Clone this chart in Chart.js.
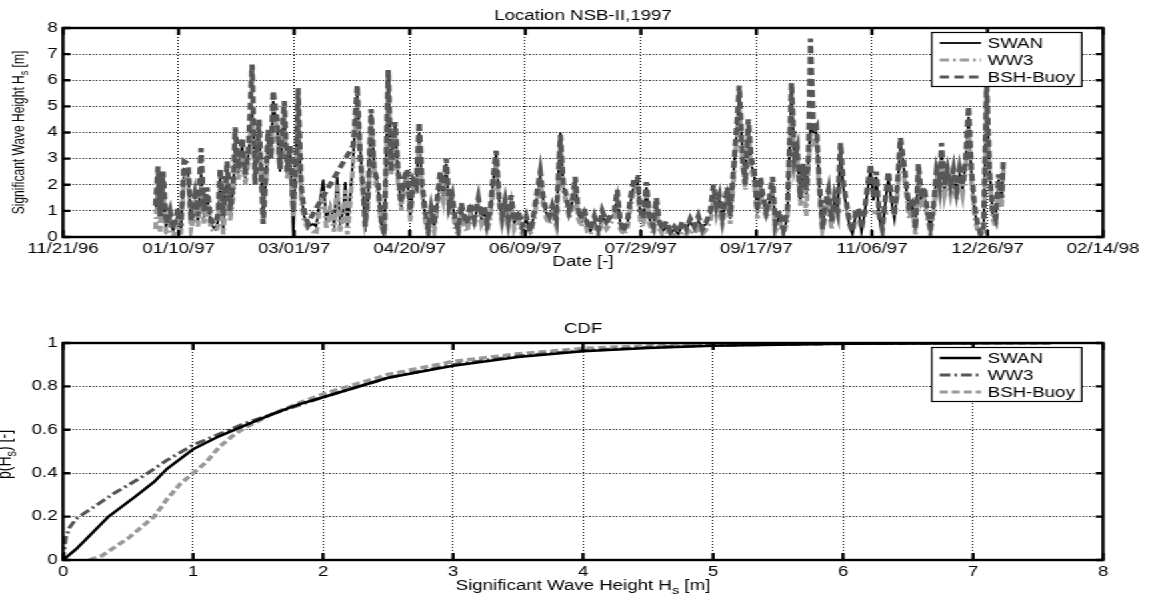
<!DOCTYPE html>
<html>
<head>
<meta charset="utf-8">
<script src="https://cdn.jsdelivr.net/npm/chart.js@4.4.0/dist/chart.umd.min.js"></script>
<style>
  html, body { margin: 0; padding: 0; background: #fff; overflow: hidden; }
  /* the reference is a horizontally stretched Matlab figure */
  #stage { width: 864px; height: 597px; transform: scale(1.3333333, 1); transform-origin: 0 0; }
  .box { position: relative; width: 864px; }
  #topBox { height: 300px; }
  #cdfBox { height: 297px; }
  canvas { display: block; }
</style>
</head>
<body>
<div id="stage">
  <div class="box" id="topBox"><canvas id="seriesChart"></canvas></div>
  <div class="box" id="cdfBox"><canvas id="cdfChart"></canvas></div>
</div>
<script>
// x axis of the time series: days after 11/21/96
const dateTicks = ["11/21/96", "01/10/97", "03/01/97", "04/20/97", "06/09/97",
  "07/29/97", "09/17/97", "11/06/97", "12/26/97", "02/14/98"];
const hsTicks = ["0", "1", "2", "3", "4", "5", "6", "7", "8"];
const cdfXTicks = ["0", "1", "2", "3", "4", "5", "6", "7", "8"];
const cdfYTicks = ["0", "0.2", "0.4", "0.6", "0.8", "1"];

const days = [
  40.0, 41.1, 42.0, 43.3, 44.6, 46.3, 47.6, 49.8, 51.0, 52.4,
  54.1, 55.4, 57.1, 58.4, 59.7, 61.0, 62.3, 64.0, 65.8, 67.1,
  68.0, 69.3, 71.0, 72.3, 73.6, 74.5, 75.8, 77.5, 78.8, 80.1,
  81.8, 83.1, 84.8, 86.6, 87.9, 88.7, 90.0, 90.9, 92.6, 93.9,
  94.8, 95.7, 97.0, 98.3, 99.6, 100.9, 101.7, 103.0, 104.3, 106.0,
  108.2, 109.5, 110.8, 112.6, 113.9, 115.6, 117.3, 118.6, 119.9, 121.2,
  122.1, 123.0, 124.2, 125.5, 126.4, 127.3, 128.6, 129.9, 130.7, 132.0,
  133.3, 134.6, 136.4, 137.7, 139.0, 140.7, 142.0, 143.7, 145.0, 146.3,
  147.6, 148.9, 150.2, 151.5, 152.8, 154.1, 155.4, 156.7, 158.0, 159.3,
  160.6, 161.9, 163.2, 164.5, 165.8, 167.1, 168.4, 169.7, 171.0, 172.3,
  173.6, 174.9, 176.2, 177.9, 179.7, 181.0, 182.3, 183.5, 184.8, 186.1,
  187.4, 188.7, 190.0, 191.3, 192.6, 193.9, 195.2, 197.0, 198.7, 200.4,
  202.2, 203.9, 205.2, 206.5, 207.8, 209.1, 210.4, 211.7, 213.4, 215.2,
  216.5, 217.7, 219.0, 220.3, 221.6, 222.9, 224.2, 225.5, 226.8, 228.1,
  229.9, 231.6, 233.3, 235.1, 236.8, 238.5, 239.8, 241.1, 242.4, 244.2,
  245.5, 247.2, 248.5, 249.8, 251.1, 252.4, 253.7, 255.4, 256.7, 258.0,
  259.3, 261.0, 262.8, 264.5, 266.2, 268.0, 269.7, 271.4, 273.2, 274.9,
  276.6, 278.4, 280.1, 281.4, 282.7, 284.0, 285.3, 286.6, 287.4, 288.7,
  290.0, 291.3, 292.6, 294.0, 295.2, 296.5, 297.8, 299.1, 300.4, 301.7,
  303.0, 304.3, 305.6, 307.0, 308.2, 310.0, 311.7, 313.4, 315.2, 316.5,
  317.7, 319.0, 320.3, 321.6, 322.5, 323.4, 324.7, 326.0, 327.3, 328.6,
  329.9, 331.2, 332.5, 333.8, 335.1, 336.4, 337.7, 339.0, 340.3, 341.6,
  342.9, 344.2, 345.5, 346.8, 348.0, 349.4, 350.6, 351.9, 353.2, 354.5,
  355.8, 357.1, 358.4, 359.7, 361.0, 362.3, 363.6, 364.9, 366.2, 367.5,
  368.8, 370.1, 371.4, 372.7, 374.0, 375.3, 376.6, 377.9, 379.2, 380.1,
  381.4, 382.7, 384.0, 385.3, 386.6, 387.9, 389.2, 390.5, 391.8, 393.1,
  394.4, 395.7, 397.0, 398.3, 399.6, 400.9, 402.2, 403.5, 404.8, 406.1, 406.9
];

const swanHs = [
  0.9, 2.2, 0.6, 2.0, 0.3, 0.8, 0.2, 0.9, 0.3, 2.6,
  2.5, 0.5, 1.3, 0.6, 2.4, 0.7, 1.6, 0.5, 0.3, 0.6,
  2.3, 0.3, 2.6, 0.8, 1.8, 3.5, 2.4, 3.5, 2.2, 3.0,
  5.0, 2.3, 4.2, 0.8, 2.4, 3.8, 3.2, 5.2, 4.2, 2.5,
  3.8, 4.8, 2.4, 3.3, 0.0, 3.5, 5.5, 1.8, 0.8, 0.4,
  0.5, 0.4, 1.2, 2.2, 0.6, 1.2, 0.5, 2.3, 0.5, 1.0,
  2.1, 0.4, 1.5, 3.0, 4.4, 5.4, 3.4, 1.6, 0.2, 1.4,
  4.7, 2.8, 1.8, 0.5, 0.0, 6.3, 2.8, 4.3, 2.3, 1.1,
  2.1, 2.4, 0.8, 2.0, 1.8, 4.0, 1.8, 0.8, 0.2, 0.9,
  0.4, 1.3, 2.2, 1.6, 2.8, 1.0, 1.4, 0.5, 0.2, 1.1,
  0.6, 0.4, 1.1, 0.6, 1.3, 0.7, 1.0, 0.4, 0.9, 2.1,
  3.2, 1.4, 0.7, 1.2, 0.6, 1.4, 0.5, 0.9, 0.3, 0.7,
  0.2, 0.9, 1.6, 2.3, 1.4, 0.9, 0.7, 1.1, 0.6, 4.0,
  1.9, 1.5, 0.9, 1.3, 2.2, 0.9, 0.6, 1.0, 0.4, 0.2,
  0.6, 0.2, 0.8, 0.5, 0.7, 0.9, 1.6, 0.5, 0.2, 0.5,
  1.3, 2.1, 2.2, 0.8, 0.6, 1.9, 0.7, 0.3, 1.3, 0.5,
  0.2, 0.4, 0.1, 0.3, 0.1, 0.5, 0.3, 0.6, 0.3, 0.6,
  0.4, 0.5, 0.8, 1.7, 1.0, 1.4, 0.7, 1.3, 1.7, 0.7,
  2.3, 3.8, 5.5, 3.2, 2.2, 4.3, 2.8, 2.3, 0.9, 2.1,
  1.3, 0.9, 1.3, 2.0, 0.4, 0.8, 0.1, 0.8, 5.8, 2.8,
  3.3, 1.4, 2.6, 1.6, 2.9, 4.2, 4.0, 4.0, 1.8, 0.5,
  1.1, 1.6, 0.5, 1.3, 0.9, 3.4, 1.8, 1.1, 0.4, 0.1,
  0.8, 1.0, 0.2, 0.9, 1.7, 2.6, 1.4, 2.3, 0.7, 0.2,
  1.3, 2.3, 1.4, 0.7, 1.8, 3.6, 2.8, 1.8, 0.9, 1.3,
  0.2, 2.6, 1.3, 1.7, 0.9, 0.3, 1.1, 2.3, 1.8, 3.3,
  1.8, 2.4, 1.8, 2.4, 1.6, 2.4, 1.8, 2.8, 4.6, 2.3,
  1.0, 0.4, 0.0, 0.3, 5.7, 2.6, 0.9, 0.6, 2.2, 1.3, 2.8
];

const ww3Hs = [
  0.3, 1.8, 0.2, 1.9, 0.1, 0.5, 0.0, 0.6, 0.1, 2.4,
  2.2, 0.3, 1.0, 0.4, 2.0, 0.5, 1.3, 0.3, 0.2, 0.4,
  2.0, 0.1, 2.2, 0.6, 1.5, 3.2, 2.2, 3.2, 2.0, 2.8,
  4.6, 2.5, 3.9, 1.2, 2.2, 3.6, 3.0, 5.0, 4.0, 2.6,
  3.5, 4.6, 2.2, 3.0, 0.8, 2.8, 5.2, 1.5, 0.6, 0.3,
  0.2, 0.1, 0.9, 1.8, 0.3, 1.0, 0.2, 2.0, 0.2, 0.8,
  1.8, 0.1, 1.2, 2.8, 4.2, 5.0, 3.2, 1.5, 0.6, 1.2,
  4.4, 2.4, 1.6, 0.4, 0.2, 5.8, 2.4, 4.0, 2.0, 1.0,
  1.9, 2.2, 0.6, 1.8, 1.6, 3.6, 1.6, 0.6, 0.1, 0.7,
  0.2, 1.1, 2.0, 1.4, 2.6, 0.8, 1.2, 0.3, 0.1, 0.9,
  0.4, 0.2, 0.9, 0.4, 1.1, 0.5, 0.8, 0.2, 0.7, 1.8,
  2.8, 1.2, 0.5, 1.0, 0.4, 1.2, 0.3, 0.7, 0.1, 0.5,
  0.1, 0.7, 1.4, 2.0, 1.2, 0.7, 0.5, 0.9, 0.4, 3.5,
  1.7, 1.3, 0.7, 1.1, 2.0, 0.7, 0.4, 0.8, 0.2, 0.1,
  0.4, 0.1, 0.6, 0.3, 0.5, 0.7, 1.4, 0.3, 0.1, 0.3,
  1.1, 1.9, 2.0, 0.6, 0.4, 1.7, 0.5, 0.1, 1.1, 0.3,
  0.1, 0.2, 0.1, 0.1, 0.0, 0.2, 0.1, 0.3, 0.1, 0.4,
  0.1, 0.3, 0.6, 1.5, 0.8, 1.2, 0.5, 1.1, 1.5, 0.5,
  2.0, 3.5, 5.0, 2.8, 1.8, 4.0, 2.6, 2.1, 0.7, 1.9,
  1.1, 0.7, 1.1, 1.8, 0.2, 0.6, 0.1, 0.6, 5.2, 2.6,
  3.0, 1.2, 2.4, 0.8, 2.6, 4.0, 3.6, 3.8, 1.6, 0.3,
  0.9, 1.4, 0.3, 1.1, 1.0, null, null, null, null, null,
  null, null, null, null, null, null, null, null, null, null,
  null, null, null, 0.9, 1.6, 3.3, 2.6, 1.6, 0.7, 1.1,
  0.1, 2.4, 1.1, 1.5, 0.7, 0.1, 0.9, 2.1, 1.6, 3.0,
  1.6, 2.2, 1.6, 2.2, 1.4, 2.2, 1.6, 2.6, 4.2, 2.1,
  0.8, 0.2, 0.1, 0.1, 5.0, 2.3, 0.7, 0.4, 2.0, 1.1, 2.6
];

const buoyHs = [
  1.2, 2.7, 0.8, 2.5, 0.5, 1.0, 0.3, 1.1, 0.4, 2.9,
  2.8, 0.6, 1.6, 0.8, 3.4, 1.0, 1.9, 0.6, 0.5, 0.9,
  2.6, 0.8, 2.9, 1.0, 2.0, 4.2, 2.6, 3.8, 2.4, 3.2,
  6.6, 2.0, 4.5, 0.5, 2.6, 4.1, 3.0, 5.6, 4.5, 2.6,
  4.0, 5.2, 2.5, 3.5, 1.0, 3.0, 5.7, 2.0, 1.0, 0.5,
  0.9, null, null, null, null, null, null, null, null, null,
  null, null, null, 3.5, 4.6, 5.8, 3.0, 1.8, 0.4, 1.6,
  4.9, 2.6, 2.0, 0.6, 0.1, 6.4, 2.5, 4.4, 2.5, 1.3,
  2.3, 2.6, 1.0, 2.2, 2.0, 4.4, 2.0, 1.0, 0.3, 1.1,
  0.5, 1.5, 2.5, 1.8, 3.0, 1.2, 1.6, 0.7, 0.3, 1.3,
  0.8, 0.5, 1.3, 0.7, 1.5, 0.8, 1.2, 0.5, 1.0, 2.3,
  3.3, 1.5, 0.8, 1.4, 0.7, 1.6, 0.6, 1.0, 0.4, 0.8,
  0.2, 1.0, 1.8, 2.5, 1.5, 1.0, 0.8, 1.2, 0.7, 3.9,
  2.0, 1.6, 1.0, 1.4, 2.3, 1.0, 0.7, 1.1, 0.5, 0.3,
  0.8, 0.3, 1.0, 0.6, 0.8, 1.0, 1.8, 0.6, 0.2, 0.6,
  1.5, 2.3, 2.3, 1.0, 0.7, 2.1, 0.8, 0.4, 1.5, 0.6,
  0.3, 0.6, 0.2, 0.4, 0.2, 0.6, 0.3, 0.7, 0.4, 0.8,
  0.3, 0.6, 1.0, 2.0, 1.2, 1.6, 0.8, 1.5, 1.9, 0.8,
  2.5, 4.0, 5.8, 3.0, 2.0, 4.5, 3.0, 2.5, 1.0, 2.3,
  1.5, 1.0, 1.5, 2.3, 0.5, 1.0, 0.3, 1.0, 5.9, 3.0,
  3.4, 1.5, 2.8, 1.8, 3.0, 7.6, 4.0, 4.2, 2.0, 0.3,
  1.3, 1.8, 0.6, 1.5, 1.0, 3.6, 2.0, 1.3, 0.5, 0.2,
  0.9, 1.1, 0.3, 1.0, 1.9, 2.8, 1.5, 2.5, 0.8, 0.3,
  1.5, 2.5, 1.6, 0.8, 2.0, 3.8, 3.0, 2.0, 1.0, 1.5,
  0.3, 2.8, 1.5, 1.9, 1.0, 0.4, 1.2, 2.5, 2.0, 3.6,
  2.0, 2.6, 2.0, 2.6, 1.8, 2.6, 2.0, 3.0, 5.0, 2.5,
  1.2, 0.5, 0.1, 0.4, 6.0, 2.5, 1.0, 0.7, 2.4, 1.5, 3.0
];

// cumulative distributions
const swanCdfHs = [0, 0.1, 0.2, 0.35, 0.55, 0.7, 0.8, 1.0, 1.2, 1.4, 1.6, 1.8, 2.0, 2.5, 3.0, 3.5, 4.0, 4.5, 5.0, 5.5, 6.0, 7.0, 7.6];
const swanCdfP = [0, 0.05, 0.11, 0.2, 0.29, 0.36, 0.42, 0.51, 0.57, 0.62, 0.67, 0.715, 0.75, 0.84, 0.895, 0.935, 0.962, 0.977, 0.987, 0.992, 0.996, 0.999, 1.0];
const ww3CdfHs = [0, 0.02, 0.05, 0.1, 0.2, 0.4, 0.6, 0.8, 1.0, 1.2, 1.4, 1.6, 1.8, 2.0, 2.5, 3.0, 3.5, 4.0, 4.5, 5.0, 6.0, 7.0];
const ww3CdfP = [0, 0.1, 0.15, 0.19, 0.23, 0.31, 0.38, 0.46, 0.53, 0.58, 0.63, 0.67, 0.71, 0.75, 0.84, 0.9, 0.94, 0.965, 0.98, 0.99, 0.997, 1.0];
const buoyCdfHs = [0.2, 0.3, 0.4, 0.5, 0.6, 0.7, 0.8, 0.9, 1.0, 1.1, 1.2, 1.3, 1.4, 1.6, 1.8, 2.0, 2.5, 3.0, 3.5, 4.0, 4.5, 5.0, 6.0, 7.6];
const buoyCdfP = [0, 0.02, 0.06, 0.1, 0.15, 0.2, 0.28, 0.35, 0.4, 0.45, 0.52, 0.57, 0.61, 0.67, 0.72, 0.765, 0.855, 0.915, 0.95, 0.975, 0.987, 0.994, 0.999, 1.0];

const FONT = '"Liberation Sans", Arial, Helvetica, sans-serif';
Chart.defaults.font.family = FONT;
Chart.defaults.font.size = 14;
Chart.defaults.color = "#000";

const pairs = (xs, ys) => xs.map((x, i) => ({ x: x, y: ys[i] }));

// text with an optional subscript: [main, sub, rest], centred on the origin
function drawParts(ctx, parts, size) {
  const main = parts[0], sub = parts[1] || "", rest = parts[2] || "";
  const small = Math.round(size * 0.75);
  ctx.font = size + "px " + FONT;
  const w1 = ctx.measureText(main).width;
  const w3 = ctx.measureText(rest).width;
  ctx.font = small + "px " + FONT;
  const w2 = ctx.measureText(sub).width;
  let x = -(w1 + w2 + w3) / 2;
  ctx.font = size + "px " + FONT;
  ctx.fillText(main, x, 0);
  x += w1;
  ctx.font = small + "px " + FONT;
  ctx.fillText(sub, x, size * 0.3);
  x += w2;
  ctx.font = size + "px " + FONT;
  ctx.fillText(rest, x, 0);
}

// Matlab look: heavy box, inward ticks, boxed legend, titles
const matlabFrame = {
  id: "matlabFrame",
  afterDatasetsDraw(chart, args, opts) {
    const { ctx, chartArea: a } = chart;
    const xs = chart.scales.x, ys = chart.scales.y;
    ctx.save();
    ctx.setLineDash([]);
    ctx.strokeStyle = "#000";
    ctx.lineWidth = 2.4;
    ctx.strokeRect(a.left, a.top, a.right - a.left, a.bottom - a.top);
    ctx.beginPath();
    xs.ticks.forEach((t) => {
      const px = xs.getPixelForValue(t.value);
      ctx.moveTo(px, a.top); ctx.lineTo(px, a.top + 7);
      ctx.moveTo(px, a.bottom); ctx.lineTo(px, a.bottom - 7);
    });
    ys.ticks.forEach((t) => {
      const py = ys.getPixelForValue(t.value);
      ctx.moveTo(a.left, py); ctx.lineTo(a.left + 5.5, py);
      ctx.moveTo(a.right, py); ctx.lineTo(a.right - 5.5, py);
    });
    ctx.stroke();

    const w = 112.5, h = 54;
    const bx = a.right - 16 - w, by = a.top + 4.5;
    ctx.fillStyle = "#fff";
    ctx.fillRect(bx, by, w, h);
    ctx.lineWidth = 1.2;
    ctx.strokeRect(bx, by, w, h);
    ctx.font = "14px " + FONT;
    ctx.textBaseline = "middle";
    ctx.textAlign = "left";
    chart.data.datasets.forEach((ds, i) => {
      const y = by + 10.5 + i * 17;
      ctx.beginPath();
      ctx.strokeStyle = ds.borderColor;
      ctx.lineWidth = Math.min(ds.borderWidth, 3);
      ctx.setLineDash(ds.borderDash || []);
      ctx.moveTo(bx + 6, y);
      ctx.lineTo(bx + 37, y);
      ctx.stroke();
      ctx.fillStyle = "#000";
      ctx.fillText(ds.label, bx + 42, y + 1);
    });
    ctx.restore();
  },
  afterDraw(chart, args, opts) {
    const { ctx, chartArea: a } = chart;
    const cx = (a.left + a.right) / 2;
    ctx.save();
    ctx.fillStyle = "#000";
    ctx.textAlign = "left";
    ctx.textBaseline = "alphabetic";

    ctx.save();
    ctx.translate(cx, a.top + opts.titleDy);
    drawParts(ctx, [opts.title], 14);
    ctx.restore();

    ctx.save();
    ctx.translate(cx, a.bottom + opts.xTitleDy);
    drawParts(ctx, opts.xTitle, 14);
    ctx.restore();

    ctx.save();
    ctx.translate(opts.yTitleX, (a.top + a.bottom) / 2 + opts.yTitleDy);
    ctx.rotate(-Math.PI / 2);
    drawParts(ctx, opts.yTitle, opts.yTitleSize);
    ctx.restore();

    ctx.restore();
  }
};

function axes(xMin, xMax, xStep, xLabels, yMin, yMax, yStep, yLabels, xHeight) {
  return {
    x: {
      type: "linear", min: xMin, max: xMax,
      ticks: {
        stepSize: xStep, padding: 4, maxRotation: 0, autoSkip: false,
        callback: (v) => xLabels[Math.round((v - xMin) / xStep)]
      },
      grid: { color: "#000", lineWidth: 1, drawTicks: false },
      border: { display: false, dash: [1, 2] },
      afterFit: (s) => { s.height = xHeight; }
    },
    y: {
      type: "linear", min: yMin, max: yMax,
      ticks: {
        stepSize: yStep, padding: 4, autoSkip: false,
        callback: (v) => yLabels[Math.round((v - yMin) / yStep)]
      },
      grid: { color: "#000", lineWidth: 1, drawTicks: false },
      border: { display: false, dash: [1, 1.5] },
      afterFit: (s) => { s.width = 47.3; }
    }
  };
}

new Chart(document.getElementById("seriesChart"), {
  type: "line",
  data: {
    datasets: [
      {
        label: "SWAN",
        data: pairs(days, swanHs),
        borderColor: "#000000",
        borderWidth: 1.8,
        order: 2
      },
      {
        label: "WW3",
        data: pairs(days, ww3Hs),
        borderColor: "#9a9a9a",
        borderWidth: 3.5,
        borderDash: [7, 3, 2, 3],
        spanGaps: true,
        order: 1
      },
      {
        label: "BSH-Buoy",
        data: pairs(days, buoyHs),
        borderColor: "#575757",
        borderWidth: 4,
        borderDash: [7, 4],
        spanGaps: true,
        order: 0
      }
    ]
  },
  options: {
    responsive: true,
    maintainAspectRatio: false,
    animation: false,
    layout: { padding: { top: 28, right: 36.7, bottom: 0, left: 0 } },
    elements: { point: { radius: 0 }, line: { tension: 0 } },
    scales: axes(0, 450, 50, dateTicks, 0, 8, 1, hsTicks, 63),
    plugins: {
      legend: { display: false },
      tooltip: { enabled: false },
      matlabFrame: {
        title: "Location NSB-II,1997",
        titleDy: -8,
        xTitle: ["Date [-]"],
        xTitleDy: 29,
        yTitle: ["Significant Wave Height H", "s", " [m]"],
        yTitleX: 17.5,
        yTitleDy: 0,
        yTitleSize: 12
      }
    }
  },
  plugins: [matlabFrame]
});

new Chart(document.getElementById("cdfChart"), {
  type: "line",
  data: {
    datasets: [
      {
        label: "SWAN",
        data: pairs(swanCdfHs, swanCdfP),
        borderColor: "#000000",
        borderWidth: 2.5,
        order: 0
      },
      {
        label: "WW3",
        data: pairs(ww3CdfHs, ww3CdfP),
        borderColor: "#555555",
        borderWidth: 3,
        borderDash: [8, 3, 2, 3],
        order: 1
      },
      {
        label: "BSH-Buoy",
        data: pairs(buoyCdfHs, buoyCdfP),
        borderColor: "#999999",
        borderWidth: 3.5,
        borderDash: [6, 3],
        order: 2
      }
    ]
  },
  options: {
    responsive: true,
    maintainAspectRatio: false,
    animation: false,
    layout: { padding: { top: 43, right: 36.7, bottom: 0, left: 0 } },
    elements: { point: { radius: 0 }, line: { tension: 0 } },
    scales: axes(0, 8, 1, cdfXTicks, 0, 1, 0.2, cdfYTicks, 37),
    plugins: {
      legend: { display: false },
      tooltip: { enabled: false },
      matlabFrame: {
        title: "CDF",
        titleDy: -10,
        xTitle: ["Significant Wave Height H", "s", " [m]"],
        xTitleDy: 30,
        yTitle: ["p(H", "s", ") [-]"],
        yTitleX: 7.5,
        yTitleDy: 3,
        yTitleSize: 14
      }
    }
  },
  plugins: [matlabFrame]
});
</script>
</body>
</html>
